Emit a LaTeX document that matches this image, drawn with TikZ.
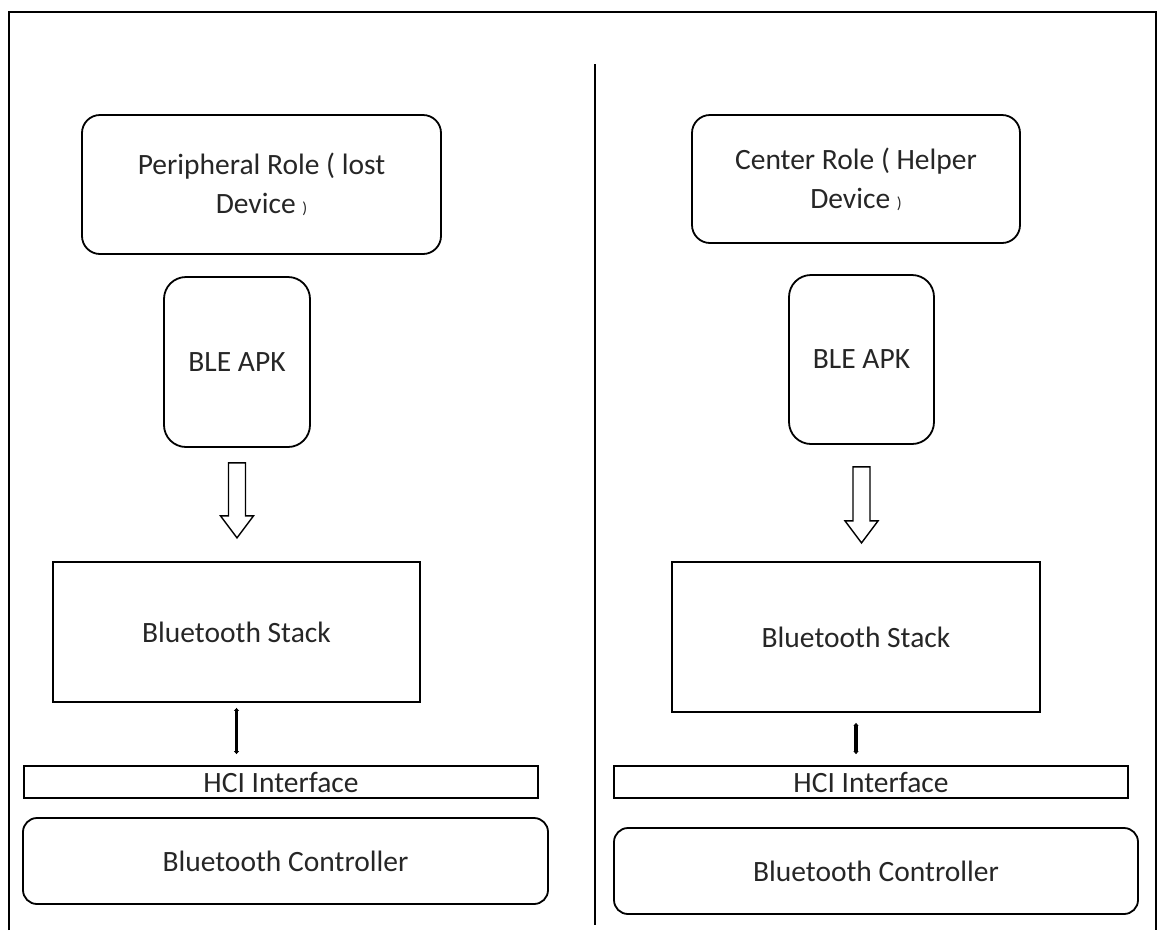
\documentclass[tikz,border=0pt]{standalone}
\usepackage{fontspec}
\setmainfont{Carlito}
\usetikzlibrary{arrows.meta,calc}
\begin{document}
\begin{tikzpicture}[x=1pt,y=-1pt,
  every node/.style={font=\fontsize{29.5}{39}\selectfont, text=black!85, align=center, inner sep=0pt},
  rbox/.style={draw, line width=1.8pt, rounded corners=18pt},
  sbox/.style={draw, line width=1.8pt},
  frame/.style={line width=1.8pt},
  link/.style={line width=3.4pt, {Triangle[length=3pt,width=5pt]}-{Triangle[length=3pt,width=5pt]}},
  hollowdown/.pic={\draw[line width=1.4pt, fill=white, line join=miter]
     (-8.5,0) -- (8.5,0) -- (8.5,#1-22) -- (16.5,#1-22) -- (0,#1)
     -- (-16.5,#1-22) -- (-8.5,#1-22) -- cycle;}
]
\useasboundingbox (0,0) rectangle (1159,930);

% outer frame and divider
\draw[frame] (9,930) -- (9,12) -- (1156,12) -- (1156,930);
\draw[frame] (595,64) -- (595,925);

% peripheral side
\node[rbox, minimum width=359pt, minimum height=139pt] (roleL) at (261.5,184.5)
  {Peripheral Role ( lost\\Device {\fontsize{16}{16}\selectfont)}};
\node[rbox, rounded corners=22pt, minimum width=146pt, minimum height=170pt] (apkL) at (237,362) {BLE APK};
\node[sbox, minimum width=367pt, minimum height=140pt] (stackL) at (236.5,632) {Bluetooth Stack};
\node[sbox, minimum width=514pt, minimum height=32pt] (hciL) at (281,782) {HCI Interface};
\node[rbox, rounded corners=14pt, minimum width=525pt, minimum height=86pt] (ctrlL) at (285.5,861) {Bluetooth Controller};

\path ([yshift=-15pt]apkL.south) pic {hollowdown=75};
\draw[link] ([yshift=-5pt]stackL.south) -- ([yshift=11pt]stackL.south |- hciL.north);

% center side
\node[rbox, minimum width=328pt, minimum height=128pt] (roleR) at (856,179)
  {Center Role ( Helper\\Device {\fontsize{16}{16}\selectfont)}};
\node[rbox, rounded corners=22pt, minimum width=145pt, minimum height=169pt] (apkR) at (861.5,359.5) {BLE APK};
\node[sbox, minimum width=368pt, minimum height=150pt] (stackR) at (856,637) {Bluetooth Stack};
\node[sbox, minimum width=514pt, minimum height=32pt] (hciR) at (871,782) {HCI Interface};
\node[rbox, rounded corners=14pt, minimum width=524pt, minimum height=86pt] (ctrlR) at (876,871) {Bluetooth Controller};

\path ([yshift=-22pt]apkR.south) pic {hollowdown=76};
\draw[link] ([yshift=-10pt]stackR.south) -- ([yshift=11pt]stackR.south |- hciR.north);
\end{tikzpicture}
\end{document}
